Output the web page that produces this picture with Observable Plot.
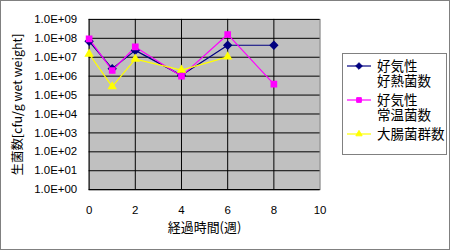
<!DOCTYPE html>
<html><head><meta charset="utf-8">
<script src="https://cdn.jsdelivr.net/npm/d3@7"></script>
<script src="https://cdn.jsdelivr.net/npm/@observablehq/plot@0.6"></script>
<style>
html,body{margin:0;padding:0;background:#fff;}
#wrap{position:relative;width:450px;height:250px;box-sizing:border-box;border:1px solid #808080;overflow:hidden;}
#wrap > svg{position:absolute;left:-1px;top:-1px;}
#legend{position:absolute;left:341px;top:52px;width:103px;height:100px;border:1px solid #808080;background:#fff;font-family:"Noto Sans CJK JP",sans-serif;font-size:13.5px;line-height:15px;color:#000;}
.item{position:absolute;left:3px;display:flex;}
</style></head><body>
<div id="wrap"><div id="legend"></div></div>
<script>
const weeks = [0, 1, 2, 4, 6, 8];
const seriesNames = ["好気性\n好熱菌数", "好気性\n常温菌数", "大腸菌群数"];
const thermophilic = [7.0e7, 2.5e6, 2.3e7, 1.1e6, 4.3e7, 4.3e7];
const mesophilic = [9.3e7, 2.0e6, 3.5e7, 1.0e6, 1.6e8, 3.8e5];
const coliform = [1.5e7, 2.8e5, 8.0e6, 2.1e6, 1.05e7, null];
const yTicks = [1e0,1e1,1e2,1e3,1e4,1e5,1e6,1e7,1e8,1e9];
const xTicks = [0, 2, 4, 6, 8, 10];
const colors = ["#000080", "#FF00FF", "#FFFF00"];
const symbols = ["diamond2", "square2", "triangle2"];

const allSeries = [thermophilic, mesophilic, coliform];
const data = [];
allSeries.forEach((vals, si) => vals.forEach((v, i) => {
  if (v != null) data.push({week: weeks[i], value: v, s: seriesNames[si]});
}));

const fmt = v => "1.0E+" + String(Math.round(Math.log10(v))).padStart(2, "0");

const chart = Plot.plot({
  width: 450, height: 250,
  marginLeft: 89, marginRight: 129, marginTop: 19, marginBottom: 60,
  style: {fontFamily: "'Liberation Sans', Arial, sans-serif", fontSize: "11px", background: "transparent", color: "#000"},
  x: {domain: [0, 10]},
  y: {type: "log", domain: [1, 1e9]},
  color: {domain: seriesNames, range: colors},
  symbol: {domain: seriesNames, range: symbols},
  marks: [
    Plot.frame({fill: "#c0c0c0", stroke: "#808080"}),
    Plot.ruleY(yTicks, {stroke: "#000", strokeWidth: 1}),
    Plot.axisY({ticks: yTicks, tickFormat: fmt, tickSize: 0, tickPadding: 12, fontSize: 11.5, label: null}),
    Plot.axisX({ticks: xTicks, tickSize: 0, tickPadding: 16, fontSize: 11.5, label: null}),
    Plot.tickX(xTicks.slice(1, -1), {x: d => d, y1: 1, y2: 1.45, stroke: "#000"}),
    Plot.ruleX([0], {stroke: "#000"}),
    Plot.ruleY([1], {stroke: "#000"}),
    Plot.line(data, {x: "week", y: "value", z: "s", stroke: "s", strokeWidth: 1.2}),
    Plot.dot(data, {x: "week", y: "value", symbol: "s", fill: "s", stroke: "s", r: 3.3}),
    Plot.text(["生菌数[cfu/g wet weight]"], {frameAnchor: "left", textAnchor: "middle", dx: -71, rotate: -90, fontFamily: "'Noto Sans CJK JP', sans-serif", fontSize: 12.5, text: d => d}),
    Plot.text(["経過時間(週)"], {x: 5, y: 1, dy: 38, fontFamily: "'Noto Sans CJK JP', sans-serif", fontSize: 13, text: d => d})
  ]
});
document.getElementById("wrap").appendChild(chart);

const legend = document.getElementById("legend");
const tops = [3.5, 37.5, 71.5];
const shapes = [d3.symbolDiamond2, d3.symbolSquare2, d3.symbolTriangle2];
seriesNames.forEach((name, i) => {
  const div = document.createElement("div");
  div.className = "item";
  div.style.top = tops[i] + "px";
  const path = d3.symbol(shapes[i], 28)();
  div.innerHTML = `<svg width="26" height="15" style="display:block"><line x1="1" x2="25" y1="8" y2="8" stroke="${colors[i]}" stroke-width="1.2"/><path transform="translate(13,8)" d="${path}" fill="${colors[i]}" stroke="${colors[i]}"/></svg><div style="white-space:pre;margin-left:5px">${name}</div>`;
  legend.appendChild(div);
});
</script>
</body></html>
